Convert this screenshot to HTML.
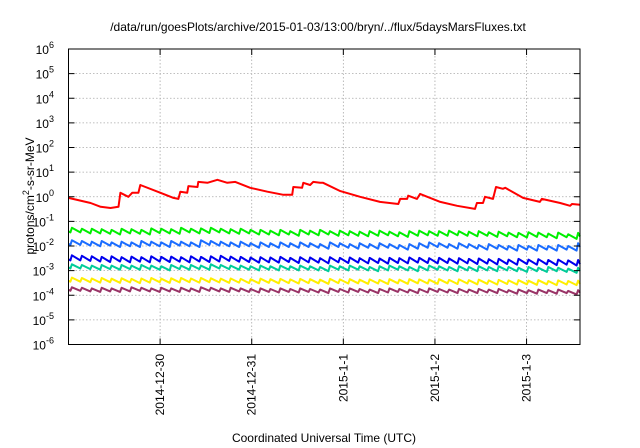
<!DOCTYPE html>
<html><head><meta charset="utf-8"><style>
body{margin:0;background:#fff}
svg{display:block;font-family:"Liberation Sans",sans-serif}
</style></head><body>
<svg id="chart" width="640" height="448" viewBox="0 0 640 448" xmlns="http://www.w3.org/2000/svg">
<rect width="640" height="448" fill="#fff"/>
<text x="318" y="31" font-size="12" text-anchor="middle">/data/run/goesPlots/archive/2015-01-03/13:00/bryn/../flux/5daysMarsFluxes.txt</text>
<text transform="translate(34,196) rotate(-90)" font-size="12" text-anchor="middle">protons/cm<tspan dy="-5" font-size="9">2</tspan><tspan dy="5">-s-sr-MeV</tspan></text>
<text x="324" y="442" font-size="12" text-anchor="middle">Coordinated Universal Time (UTC)</text>
<g id="grid"></g><g id="series"></g><g id="axes"></g>
</svg>
<script>
const yTickExps=[6,5,4,3,2,1,0,-1,-2,-3,-4,-5,-6];
const xTickHours=[24,48,72,96,120];
const xTickLabels=["2014-12-30","2014-12-31","2015-1-1","2015-1-2","2015-1-3"];
const redTimes=[0,5.8,8.4,11,13.1,13.6,15.7,16.7,18.3,18.8,24.1,27.5,28.8,29.3,31.1,31.4,33.8,34,36.4,39,41.6,43.7,47.6,52.1,56.3,58.6,58.9,61.2,61.5,63.3,64.1,65.9,66.7,71.2,76.4,81.6,86.4,86.9,88.7,89,91.3,92.1,94,97.4,101.8,106.5,107,108.6,109.1,111.2,112,113.8,114.4,119.1,123.5,124,128.8,131.4,131.9,134];
const redValues=[0.9,0.56,0.39,0.35,0.39,1.45,1.0,1.45,1.45,3.0,1.45,0.9,0.82,1.6,1.45,2.7,2.5,4.0,3.7,4.9,3.7,4.0,2.3,1.6,1.2,1.2,2.5,2.3,3.7,3.0,4.0,3.7,3.7,1.7,1.0,0.62,0.51,0.82,0.82,1.1,0.82,1.3,1.0,0.62,0.43,0.32,0.56,0.56,1.0,0.82,2.5,2.1,2.3,0.9,0.62,0.82,0.56,0.43,0.51,0.47];
const toothTimes=[0.5,3.1,5.7,8.3,10.9,13.5,16.1,18.7,21.3,23.9,26.5,29.1,31.7,34.3,36.9,39.5,42.1,44.7,47.3,49.9,52.5,55.1,57.7,60.3,62.9,65.5,68.1,70.7,73.3,75.9,78.5,81.1,83.7,86.3,88.9,91.5,94.1,96.7,99.3,101.9,104.5,107.1,109.7,112.3,114.9,117.5,120.1,122.7,125.3,127.9,130.5,133.1];
const greenPeaks=[0.055,0.05,0.05,0.048,0.045,0.05,0.048,0.045,0.052,0.05,0.048,0.055,0.05,0.052,0.055,0.05,0.048,0.05,0.045,0.045,0.042,0.045,0.04,0.045,0.042,0.045,0.04,0.042,0.04,0.038,0.04,0.042,0.038,0.036,0.04,0.042,0.04,0.04,0.042,0.04,0.038,0.04,0.036,0.038,0.035,0.034,0.036,0.035,0.032,0.035,0.03,0.034];
const lightBluePeaks=[0.017,0.016,0.015,0.016,0.014,0.015,0.014,0.016,0.015,0.014,0.016,0.015,0.014,0.017,0.016,0.015,0.014,0.015,0.013,0.014,0.013,0.014,0.013,0.014,0.013,0.012,0.014,0.013,0.012,0.013,0.012,0.013,0.012,0.011,0.012,0.013,0.014,0.013,0.012,0.013,0.012,0.011,0.012,0.011,0.01,0.011,0.01,0.011,0.01,0.011,0.01,0.013];
const darkBluePeaks=[0.0042,0.004,0.0038,0.0036,0.0038,0.0035,0.0037,0.0035,0.0038,0.0036,0.0037,0.0035,0.0038,0.0036,0.0038,0.004,0.0037,0.0036,0.0034,0.0035,0.0034,0.0036,0.0033,0.0035,0.0034,0.0032,0.0035,0.0033,0.0034,0.0032,0.0033,0.0031,0.0033,0.0032,0.0034,0.0033,0.0032,0.0033,0.0031,0.0032,0.003,0.0031,0.0029,0.003,0.0028,0.003,0.0028,0.0029,0.0027,0.0028,0.0026,0.0027];
const tealPeaks=[0.0018,0.0017,0.0016,0.0017,0.0016,0.0017,0.0016,0.0017,0.0016,0.0015,0.0017,0.0016,0.0017,0.0016,0.0018,0.0017,0.0016,0.0016,0.0015,0.0016,0.0015,0.0016,0.0015,0.0016,0.0015,0.0014,0.0016,0.0015,0.0016,0.0015,0.0014,0.0015,0.0016,0.0015,0.0014,0.0015,0.0016,0.0015,0.0014,0.0015,0.0014,0.0015,0.0014,0.0015,0.0014,0.0013,0.0014,0.0013,0.0014,0.0013,0.0012,0.0013];
const yellowPeaks=[0.00052,0.0005,0.00048,0.0005,0.00047,0.00049,0.00046,0.00048,0.0005,0.00047,0.00049,0.0005,0.00048,0.0005,0.00049,0.00047,0.00048,0.00046,0.00045,0.00047,0.00045,0.00046,0.00044,0.00046,0.00045,0.00043,0.00046,0.00044,0.00045,0.00043,0.00044,0.00042,0.00045,0.00043,0.00045,0.00044,0.00043,0.00045,0.00042,0.00044,0.00041,0.00043,0.0004,0.00042,0.0004,0.00041,0.00039,0.00041,0.00038,0.0004,0.00038,0.00039];
const purplePeaks=[0.00021,0.0002,0.00019,0.0002,0.00019,0.0002,0.00021,0.0002,0.00019,0.0002,0.00019,0.0002,0.00019,0.00021,0.0002,0.00019,0.0002,0.00019,0.00018,0.00019,0.00018,0.00019,0.00018,0.00019,0.00018,0.00017,0.00019,0.00018,0.00019,0.00018,0.00017,0.00018,0.00019,0.00018,0.00017,0.00018,0.00019,0.00018,0.00017,0.00018,0.00017,0.00018,0.00017,0.00018,0.00016,0.00017,0.00016,0.00017,0.00016,0.00017,0.00015,0.00016];

const NS="http://www.w3.org/2000/svg";
const L=68.5,R=580,T=49,B=344.5,H0=0,H1=134;
const xS=h=>L+(h-H0)/(H1-H0)*(R-L);
const yS=v=>T+(6-Math.log10(v))/12*(B-T);
function mk(tag,attrs,parent){const e=document.createElementNS(NS,tag);for(const k in attrs)e.setAttribute(k,attrs[k]);parent.appendChild(e);return e;}
const grid=document.getElementById('grid'),axes=document.getElementById('axes'),ser=document.getElementById('series');
yTickExps.forEach(p=>{
  const y=yS(Math.pow(10,p));
  if(p<6&&p>-6){const g=mk('line',{x1:L,x2:R,y1:y,y2:y,stroke:'#aaa','stroke-width':0.8,'stroke-dasharray':'1.5,2'},grid);
  
  }
  mk('line',{x1:L,x2:L+6,y1:y,y2:y,stroke:'#000'},axes);
  mk('line',{x1:R-6,x2:R,y1:y,y2:y,stroke:'#000'},axes);
  const t=mk('text',{x:60,y:y+5,'font-size':12,'text-anchor':'end'},axes);
  
  
  t.textContent='10';
  const s=mk('tspan',{dy:-6,'font-size':9},t);s.textContent=String(p);
  t.setAttribute('x',54);t.setAttribute('text-anchor','end');
  s.setAttribute('x',null);
});
xTickHours.forEach((h,i)=>{
  const x=xS(h);
  const g=mk('line',{x1:x,x2:x,y1:T,y2:B,stroke:'#aaa','stroke-width':0.8,'stroke-dasharray':'1.5,2'},grid);
  
  
  mk('line',{x1:x,x2:x,y1:B-6,y2:B,stroke:'#000'},axes);
  mk('line',{x1:x,x2:x,y1:T,y2:T+6,stroke:'#000'},axes);
  const t=mk('text',{transform:`translate(${x+4},354) rotate(-90)`,'font-size':12,'text-anchor':'end'},axes);
  
  
  t.textContent=xTickLabels[i];
});
const fr=mk('rect',{x:L,y:T,width:R-L,height:B-T,fill:'none',stroke:'#000','stroke-width':1},axes);


function drawPath(pts,color,name){
  const d=pts.map((p,i)=>(i?'L':'M')+xS(p[0]).toFixed(1)+','+yS(p[1]).toFixed(1)).join('');
  const e=mk('path',{d:d,fill:'none',stroke:color,'stroke-width':2,'stroke-linejoin':'round'},ser);
  
  
}
function saw(peaks,ratio){
  const pts=[[H0,peaks[0]*ratio*1.1]];
  peaks.forEach((p,i)=>{
    const t=toothTimes[i];
    const prevEnd=i?peaks[i-1]*ratio:peaks[0]*ratio;
    pts.push([t,prevEnd]);pts.push([t+0.4,p]);
  });
  pts.push([H1,peaks[peaks.length-1]*ratio*1.1]);
  return pts;
}
drawPath(saw(purplePeaks,0.72),'#993366','series-purple');
drawPath(saw(yellowPeaks,0.68),'#ffee00','series-yellow');
drawPath(saw(tealPeaks,0.68),'#00cc99','series-teal');
drawPath(saw(darkBluePeaks,0.62),'#0000ee','series-dark-blue');
drawPath(saw(lightBluePeaks,0.65),'#1a6cff','series-light-blue');
drawPath(saw(greenPeaks,0.65),'#00ee00','series-green');
drawPath(redTimes.map((t,i)=>[t,redValues[i]]),'#ff0000','series-red');
</script>
</body></html>
